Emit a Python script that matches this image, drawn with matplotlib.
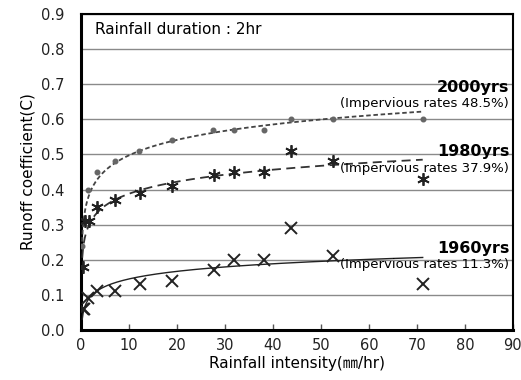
import numpy as np
import matplotlib
matplotlib.use("Agg")
import matplotlib.pyplot as plt

plt.rcParams['font.family'] = ['DejaVu Sans', 'Noto Sans CJK KR']

# Rainfall intensity (mm/hr) and runoff coefficient observations
x_2000 = [0.3, 1.4, 3.3, 7.1, 12.1, 18.9, 27.6, 31.9, 38.2, 43.8, 52.6, 71.2]
c_2000 = [0.24, 0.40, 0.45, 0.48, 0.51, 0.54, 0.57, 0.57, 0.57, 0.60, 0.60, 0.60]

x_1980 = [0.5, 0.8, 1.7, 3.3, 7.1, 12.3, 18.9, 27.8, 31.9, 38.2, 43.8, 52.6, 71.2]
c_1980 = [0.18, 0.31, 0.31, 0.35, 0.37, 0.39, 0.41, 0.44, 0.45, 0.45, 0.51, 0.48, 0.43]

x_1960 = [0.5, 0.6, 1.5, 3.3, 7.1, 12.3, 18.9, 27.8, 31.9, 38.2, 43.8, 52.6, 71.2]
c_1960 = [0.06, 0.06, 0.09, 0.11, 0.11, 0.13, 0.14, 0.17, 0.20, 0.20, 0.29, 0.21, 0.13]

periods = ["2000yrs", "1980yrs", "1960yrs"]
impervious = ["48.5%", "37.9%", "11.3%"]

fig = plt.figure(figsize=(5.21, 3.80), dpi=100)
ax = fig.add_axes([0.1555, 0.1316, 0.829, 0.8316])


def log_trend(x, c):
    b, a = np.polyfit(np.log(x), c, 1)
    xs = np.linspace(min(x) * 0.5, max(x), 400)
    return xs, a + b * np.log(xs)


# 2000s
xs, ys = log_trend(x_2000, c_2000)
ax.plot(xs, ys, color='#444444', lw=1.3, ls=(0, (2.5, 1.5)), zorder=3)
ax.plot(x_2000, c_2000, 'o', color='#666666', ms=3.3, zorder=4)

# 1980s
xs, ys = log_trend(x_1980, c_1980)
ax.plot(xs, ys, color='#333333', lw=1.3, ls=(0, (5, 3)), zorder=3)
ax.plot(x_1980, c_1980, ls='none', marker=(6, 2, 0), color='#222222',
        ms=9, mew=1.3, zorder=4)

# 1960s
xs, ys = log_trend(x_1960, c_1960)
ax.plot(xs, ys, color='#222222', lw=1.0, zorder=3)
ax.plot(x_1960, c_1960, 'x', color='#222222', ms=8, mew=1.4, zorder=4)

ax.set_xlim(0, 90)
ax.set_ylim(0, 0.9)
ax.set_xticks(np.arange(0, 91, 10))
ax.set_yticks(np.arange(0, 0.91, 0.1))
ax.set_yticklabels([f"{v:.1f}" for v in np.arange(0, 0.91, 0.1)])
ax.grid(axis='y', color='#8a8a8a', lw=1.0)
ax.set_axisbelow(True)
ax.tick_params(axis='x', direction='in', length=4, width=1, color='#555555',
               labelsize=10.5, pad=6, labelcolor='#222222')
ax.tick_params(axis='y', length=0, labelsize=10.5, pad=12, labelcolor='#222222')
for side in ['left', 'bottom']:
    ax.spines[side].set_linewidth(2.2)
for side in ['top', 'right']:
    ax.spines[side].set_linewidth(1.5)

ax.set_xlabel("Rainfall intensity(㎜/hr)", fontsize=11, labelpad=2)
ax.set_ylabel("Runoff coefficient(C)", fontsize=11, labelpad=4)

ax.text(3, 0.857, "Rainfall duration : 2hr", fontsize=11, va='center')

label_y = [0.69, 0.507, 0.232]
for name, rate, y in zip(periods, impervious, label_y):
    ax.text(89.2, y, name, fontsize=11.5, fontweight='bold', ha='right', va='center')
    ax.text(89.2, y - 0.046, f"(Impervious rates {rate})", fontsize=9.5,
            ha='right', va='center')

fig.savefig("out.png", dpi=100)
